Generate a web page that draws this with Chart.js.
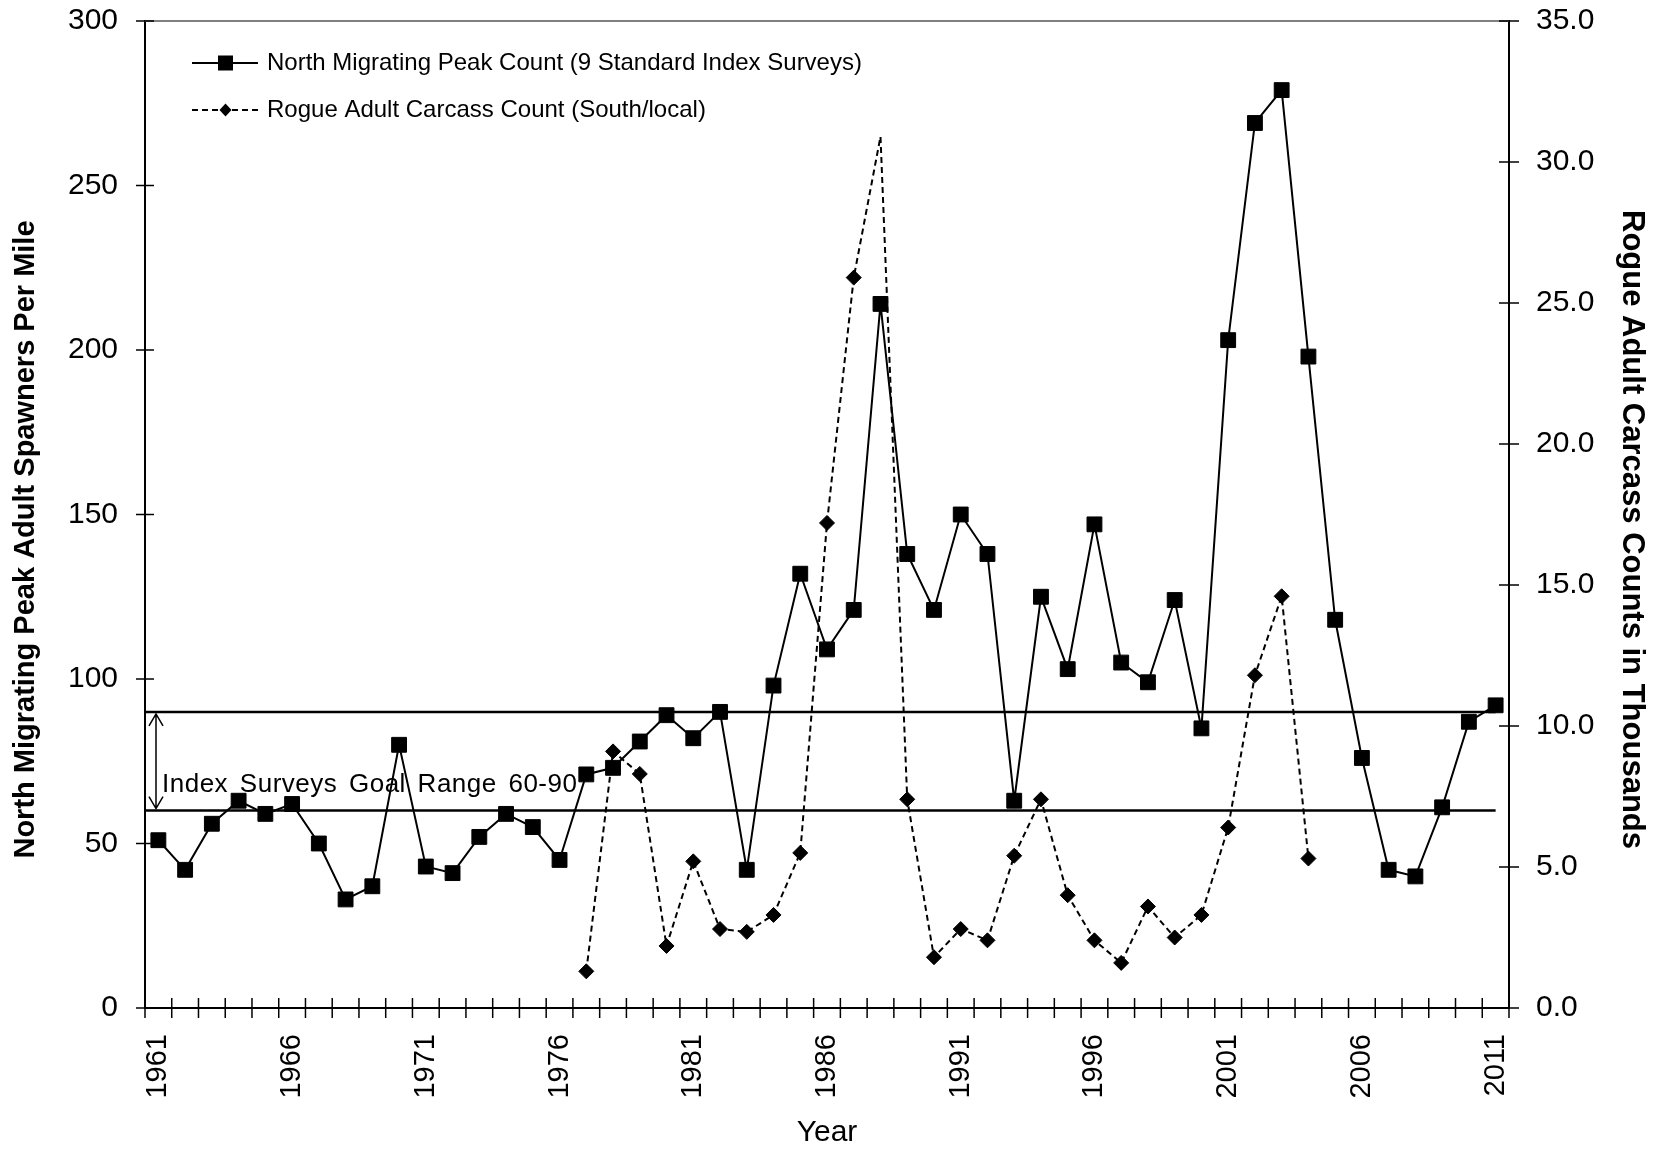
<!DOCTYPE html>
<html>
<head>
<meta charset="utf-8">
<script src="https://cdn.jsdelivr.net/npm/chart.js@4.4.1/dist/chart.umd.min.js"></script>
<style>
html, body { margin: 0; padding: 0; background: #fff; }
canvas { display: block; }
</style>
</head>
<body>
<canvas id="c" width="1657" height="1151"></canvas>
<script>
const years = ['1961','1962','1963','1964','1965','1966','1967','1968','1969','1970',
  '1971','1972','1973','1974','1975','1976','1977','1978','1979','1980',
  '1981','1982','1983','1984','1985','1986','1987','1988','1989','1990',
  '1991','1992','1993','1994','1995','1996','1997','1998','1999','2000',
  '2001','2002','2003','2004','2005','2006','2007','2008','2009','2010','2011'];
const tickYears = ['1961','1966','1971','1976','1981','1986','1991','1996','2001','2006','2011'];
const northPeak = [51,42,56,63,59,62,50,33,37,80,
  43,41,52,59,55,45,71,73,81,89,
  82,90,42,98,132,109,121,214,138,121,
  150,138,63,125,103,147,105,99,124,85,
  203,269,279,198,118,76,42,40,61,87,92];
const rogueCarcass = [null,null,null,null,null,null,null,null,null,null,
  null,null,null,null,null,null,1.3,9.1,8.3,2.2,
  5.2,2.8,2.7,3.3,5.5,17.2,25.9,30.9,7.4,1.8,
  2.8,2.4,5.4,7.4,4.0,2.4,1.6,3.6,2.5,3.3,
  6.4,11.8,14.6,5.3,null,null,null,null,null,null,null];
const rogueNoMarkerYears = ['1988'];
const leftTickValues = [0,50,100,150,200,250,300];
const rightTickValues = [0,5,10,15,20,25,30,35];
const goalRange = [60, 90];
const goalLabel = 'Index Surveys Goal Range 60-90';
const northLabel = 'North Migrating Peak Count (9 Standard Index Surveys)';
const rogueLabel = 'Rogue Adult Carcass Count (South/local)';
const leftTitle = 'North Migrating Peak Adult Spawners Per Mile';
const rightTitle = 'Rogue Adult Carcass Counts in Thousands';
const xTitle = 'Year';

const FONT = '"Liberation Sans", Arial, Helvetica, sans-serif';

function line(ctx, x1, y1, x2, y2) {
  ctx.beginPath(); ctx.moveTo(x1, y1); ctx.lineTo(x2, y2); ctx.stroke();
}

const decor = {
  id: 'decor',
  beforeDatasetsDraw(chart) {
    const {ctx, chartArea: a, scales: {x, y}} = chart;
    ctx.save();
    // top frame line
    ctx.strokeStyle = '#808080'; ctx.lineWidth = 2;
    line(ctx, a.left, a.top, a.right, a.top);
    // goal range lines
    const xEnd = x.getPixelForValue(years.length - 1);
    ctx.strokeStyle = '#000'; ctx.lineWidth = 2.5;
    goalRange.forEach(v => { const py = y.getPixelForValue(v); line(ctx, a.left, py, xEnd, py); });
    // double arrow
    const ax = a.left + 11;
    const yTop = y.getPixelForValue(goalRange[1]);
    const yBot = y.getPixelForValue(goalRange[0]);
    ctx.lineWidth = 1.5;
    ctx.beginPath();
    ctx.moveTo(ax, yTop + 2); ctx.lineTo(ax, yBot - 2);
    ctx.moveTo(ax - 7, yTop + 14); ctx.lineTo(ax, yTop + 2); ctx.lineTo(ax + 7, yTop + 14);
    ctx.moveTo(ax - 7, yBot - 14); ctx.lineTo(ax, yBot - 2); ctx.lineTo(ax + 7, yBot - 14);
    ctx.stroke();
    // goal label
    ctx.font = '26px ' + FONT;
    ctx.fillStyle = '#000';
    ctx.textAlign = 'left';
    ctx.textBaseline = 'alphabetic';
    try { ctx.wordSpacing = '4px'; ctx.letterSpacing = '0.5px'; } catch (e) {}
    ctx.fillText(goalLabel, a.left + 17, yBot - 19);
    ctx.restore();
  },
  afterDraw(chart) {
    const {ctx, chartArea: a, scales: {x, y, y1}} = chart;
    ctx.save();
    // crossing tick marks
    ctx.strokeStyle = '#000'; ctx.lineWidth = 1.5;
    y.ticks.forEach(t => { const py = y.getPixelForValue(t.value); line(ctx, a.left - 9, py, a.left + 9, py); });
    y1.ticks.forEach(t => { const py = y1.getPixelForValue(t.value); line(ctx, a.right - 10, py, a.right + 10, py); });
    const step = x.getPixelForValue(1) - x.getPixelForValue(0);
    const start = x.getPixelForValue(0) - step / 2;
    for (let i = 0; i <= years.length; i++) {
      const px = start + i * step;
      line(ctx, px, a.bottom - 10, px, a.bottom + 10);
    }
    // legend
    const rows = [a.top + 42, a.top + 89];
    const lx0 = a.left + 47, lx1 = a.left + 113, mx = a.left + 80.5, tx = a.left + 122;
    ctx.fillStyle = '#000';
    ctx.lineWidth = 2; ctx.setLineDash([]);
    line(ctx, lx0, rows[0], lx1, rows[0]);
    ctx.fillRect(mx - 7.5, rows[0] - 7.5, 15, 15);
    ctx.setLineDash([6, 4]);
    line(ctx, lx0, rows[1], lx1, rows[1]);
    ctx.setLineDash([]);
    ctx.beginPath();
    ctx.moveTo(mx - 6, rows[1]); ctx.lineTo(mx, rows[1] - 6.5); ctx.lineTo(mx + 6, rows[1]); ctx.lineTo(mx, rows[1] + 6.5);
    ctx.closePath(); ctx.fill();
    ctx.font = '24px ' + FONT;
    ctx.textAlign = 'left'; ctx.textBaseline = 'middle';
    ctx.fillText(chart.data.datasets[0].label, tx, rows[0]);
    ctx.fillText(chart.data.datasets[1].label, tx, rows[1]);
    // y axis titles
    const cy = (a.top + a.bottom) / 2;
    ctx.textAlign = 'center'; ctx.textBaseline = 'middle';
    ctx.save();
    ctx.font = 'bold 29px ' + FONT;
    ctx.translate(26, cy + 25);
    ctx.rotate(-Math.PI / 2);
    ctx.fillText(leftTitle, 0, 0);
    ctx.restore();
    ctx.save();
    ctx.font = 'bold 31px ' + FONT;
    ctx.translate(chart.width - 25, cy + 15);
    ctx.rotate(Math.PI / 2);
    ctx.fillText(rightTitle, 0, 0);
    ctx.restore();
    ctx.restore();
  }
};

new Chart(document.getElementById('c'), {
  type: 'line',
  data: {
    labels: years,
    datasets: [
      {
        label: northLabel,
        data: northPeak,
        yAxisID: 'y',
        borderColor: '#000',
        backgroundColor: '#000',
        borderWidth: 2,
        pointStyle: 'rect',
        pointRadius: 10.5,
        pointBackgroundColor: '#000',
        pointBorderColor: '#000',
        pointBorderWidth: 1,
        tension: 0,
        fill: false
      },
      {
        label: rogueLabel,
        data: rogueCarcass,
        yAxisID: 'y1',
        borderColor: '#000',
        backgroundColor: '#000',
        borderWidth: 2,
        borderDash: [6, 4],
        pointStyle: 'rectRot',
        pointRadius: ctx => rogueNoMarkerYears.includes(years[ctx.dataIndex]) ? 0 : 7.5,
        pointBackgroundColor: '#000',
        pointBorderColor: '#000',
        pointBorderWidth: 1,
        spanGaps: false,
        tension: 0,
        fill: false
      }
    ]
  },
  options: {
    responsive: false,
    animation: false,
    devicePixelRatio: 1,
    layout: { padding: { top: 21, left: 0, right: 0, bottom: 0 } },
    plugins: { legend: { display: false }, tooltip: { enabled: false } },
    scales: {
      x: {
        type: 'category',
        offset: true,
        grid: { display: false, drawTicks: false, drawOnChartArea: false },
        border: { display: true, color: '#000', width: 2 },
        ticks: {
          autoSkip: false,
          minRotation: 90,
          maxRotation: 90,
          padding: 26,
          color: '#000',
          font: { family: FONT, size: 29 },
          callback: function (value, index) {
            const lbl = years[index];
            return tickYears.includes(lbl) ? lbl : '';
          }
        },
        title: {
          display: true,
          text: xTitle,
          color: '#000',
          font: { family: FONT, size: 30 },
          padding: { top: 0, bottom: 0 }
        },
        afterFit: s => { s.height = 143; s.paddingLeft = 0; s.paddingRight = 0; }
      },
      y: {
        position: 'left',
        min: 0,
        max: 300,
        grid: { display: false, drawTicks: false, drawOnChartArea: false },
        border: { display: true, color: '#000', width: 2 },
        afterBuildTicks: s => { s.ticks = leftTickValues.map(v => ({ value: v })); },
        ticks: {
          padding: 27,
          color: '#000',
          font: { family: FONT, size: 30 }
        },
        afterFit: s => { s.width = 145; s.paddingTop = 0; s.paddingBottom = 0; }
      },
      y1: {
        position: 'right',
        min: 0,
        max: 35,
        grid: { display: false, drawTicks: false, drawOnChartArea: false },
        border: { display: true, color: '#000', width: 2 },
        afterBuildTicks: s => { s.ticks = rightTickValues.map(v => ({ value: v })); },
        ticks: {
          padding: 27,
          color: '#000',
          font: { family: FONT, size: 30 },
          callback: v => Number(v).toFixed(1)
        },
        afterFit: s => { s.width = 148; s.paddingTop = 0; s.paddingBottom = 0; }
      }
    }
  },
  plugins: [decor]
});
</script>
</body>
</html>
